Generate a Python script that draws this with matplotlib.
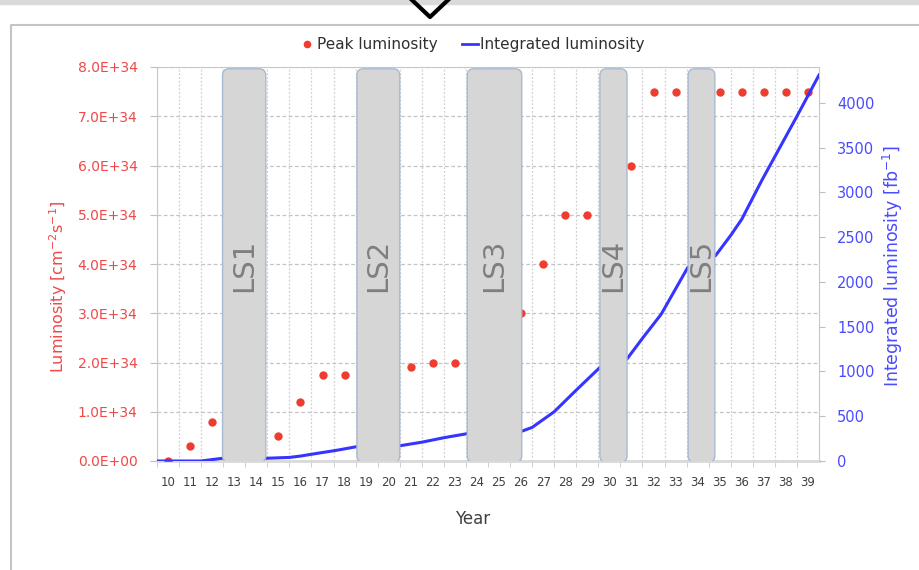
import matplotlib
matplotlib.use("Agg")
import matplotlib.pyplot as plt
from matplotlib.patches import FancyBboxPatch, Rectangle
from matplotlib.lines import Line2D
from matplotlib.ticker import FuncFormatter, MultipleLocator

# peak luminosity per year, in units of 1E34 cm^-2 s^-1
peak_years = [10, 11, 12, 15, 16, 17, 18, 21, 22, 23, 26, 27, 28, 29, 31,
              32, 33, 35, 36, 37, 38, 39]
peak_lumi = [0.0, 0.3, 0.8, 0.5, 1.2, 1.75, 1.75, 1.9, 2.0, 2.0, 3.0, 4.0,
             5.0, 5.0, 6.0, 7.5, 7.5, 7.5, 7.5, 7.5, 7.5, 7.5]

# integrated luminosity curve [fb^-1]
int_x = [9.5, 11.5, 12.45, 14.4, 15.5, 16.0, 16.75, 17.65, 18.55, 20.5, 21.5,
         22.5, 23.55, 26.0, 26.5, 27.5, 28.45, 29.55, 30.8, 31.5, 32.35, 33.55,
         34.8, 35.5, 36.0, 36.9, 37.5, 38.5, 39.5]
int_lumi = [0, 0, 30, 30, 40, 55, 85, 120, 160, 170, 210, 260, 305, 330, 375,
            550, 780, 1040, 1140, 1370, 1640, 2160, 2290, 2520, 2700, 3130,
            3400, 3850, 4310]

# long shutdowns: name, start, end (in years)
ls_names = ["LS1", "LS2", "LS3", "LS4", "LS5"]
ls_start = [12.47, 18.56, 23.56, 29.57, 33.57]
ls_end = [14.43, 20.50, 26.03, 30.80, 34.78]

years = list(range(10, 40))

RED = "#f03c2e"
RED_TXT = "#f04848"
BLUE = "#3535ff"
BLUE_TXT = "#4a4aff"
GRAY_TXT = "#404040"

fig = plt.figure(figsize=(9.19, 5.70), dpi=100)
ax = fig.add_axes([157 / 919, 1 - 461 / 570, (819 - 157) / 919, (461 - 67) / 570])
ax2 = ax.twinx()

# grid
ax.set_xlim(9.5, 39.5)
ax.set_ylim(0, 8)
ax.yaxis.set_major_locator(MultipleLocator(1))
ax.set_xticks(years)
ax.set_xticks([y + 0.5 for y in range(9, 39)], minor=True)
ax.grid(axis="y", which="major", color="#c4c4c4", linestyle=(0, (3, 2)), linewidth=0.9)
ax.grid(axis="x", which="minor", color="#d0d0d0", linestyle=(0, (1.5, 1.5)), linewidth=0.9)
ax.set_axisbelow(True)

ax.plot(peak_years, peak_lumi, "o", color=RED, markersize=5, zorder=3)

ax.yaxis.set_major_formatter(FuncFormatter(
    lambda v, p: "0.0E+00" if v == 0 else f"{v:.1f}E+34"))
ax.tick_params(axis="y", colors="#bfbfbf", labelcolor=RED_TXT, labelsize=10,
               length=5, pad=9)
ax.tick_params(axis="x", which="major", length=0, labelsize=8.5,
               labelcolor=GRAY_TXT, pad=11)
ax.tick_params(axis="x", which="minor", length=4, color="#c8c8c8")
ax.set_xlabel("Year", fontsize=12, color=GRAY_TXT, va="center")
ax.xaxis.set_label_coords((473 - 157) / 662, (461 - 519) / 394)
ax.set_ylabel("Luminosity [cm$^{-2}$s$^{-1}$]", fontsize=11.5, color=RED_TXT,
              va="center")
ax.yaxis.set_label_coords((58 - 157) / 662, (461 - 287) / 394)

for side in ["left", "right", "top"]:
    ax.spines[side].set_color("#c8c8c8")
ax.spines["bottom"].set_color("#d9d9d9")
ax.spines["bottom"].set_linewidth(2)

# integrated luminosity on the right axis
ax2.set_ylim(0, 4400)
ax2.set_yticks(range(0, 4001, 500))
ax2.plot(int_x, int_lumi, color=BLUE, linewidth=2.2, zorder=2)
ax2.tick_params(axis="y", colors="#bfbfbf", labelcolor=BLUE_TXT, labelsize=10.5,
                length=4, pad=9)
ax2.set_ylabel("Integrated luminosity [fb$^{-1}$]", fontsize=12.5,
               color=BLUE_TXT, va="center")
ax2.yaxis.set_label_coords((893 - 157) / 662, (461 - 266) / 394)
for side in ["left", "right", "top", "bottom"]:
    ax2.spines[side].set_visible(False)

# shutdown boxes
for name, x0, x1 in zip(ls_names, ls_start, ls_end):
    box = FancyBboxPatch((x0, -15), x1 - x0, 4400 - 5,
                         boxstyle="round,pad=0,rounding_size=0.3",
                         mutation_aspect=245, facecolor="#d6d6d6",
                         edgecolor="#a8bad2", linewidth=1, zorder=5)
    ax2.add_patch(box)
    ax2.text((x0 + x1) / 2, 2190, name, rotation=90, ha="center", va="center",
             fontsize=21, color="#7f7f7f", zorder=6)

# legend above the plot
handles = [
    Line2D([], [], marker="o", linestyle="none", color=RED, markersize=4.5),
    Line2D([], [], color=BLUE, linewidth=2),
]
fig.legend(handles, ["Peak luminosity", "Integrated luminosity"], ncol=2,
           loc="center", bbox_to_anchor=(472 / 919, 1 - 45 / 570), frameon=False,
           fontsize=11, handlelength=1.0, handletextpad=0.15, columnspacing=1.6,
           labelcolor="#303030")

# chart frame and the marker at the top
fig.add_artist(Line2D([11 / 919, 11 / 919, 1], [0, 1 - 25 / 570, 1 - 25 / 570],
                      color="#c4c4c4", linewidth=1.5))
fig.add_artist(Rectangle((0, 1 - 4 / 570), 1, 4 / 570, color="#dadada",
                         transform=fig.transFigure))
fig.add_artist(Line2D([412 / 919, 430 / 919, 448 / 919],
                      [1.0, 1 - 17 / 570, 1.0], color="black", linewidth=3))

fig.savefig("out.png", dpi=100)
